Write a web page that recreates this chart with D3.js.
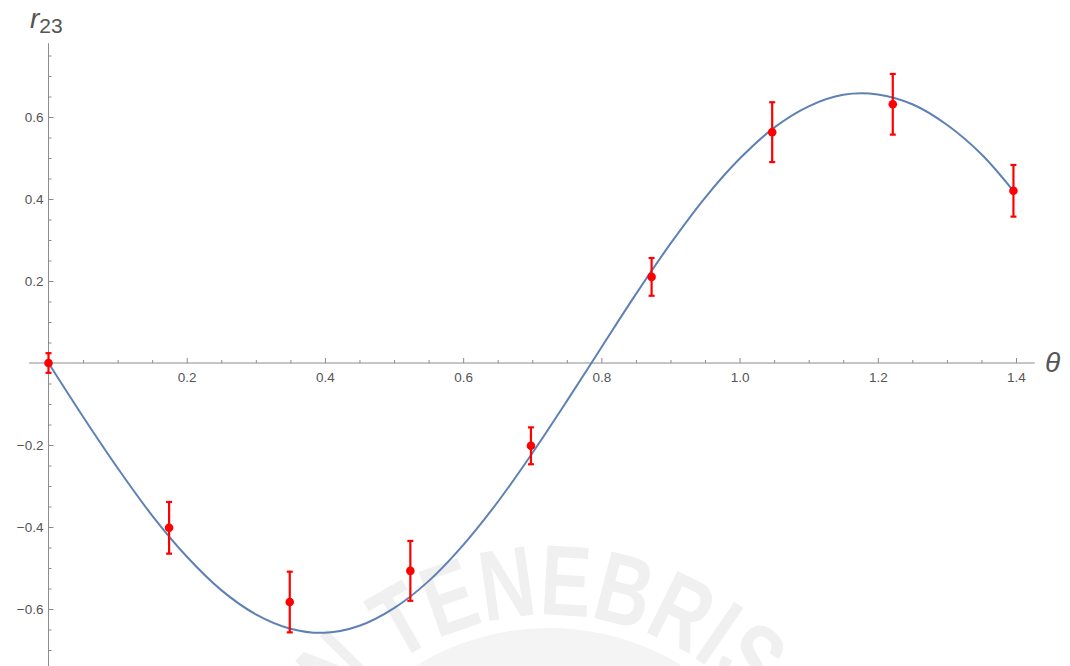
<!DOCTYPE html>
<html>
<head>
<meta charset="utf-8">
<script src="https://cdn.jsdelivr.net/npm/d3@7"></script>
<style>
  body { margin: 0; background: #fff; }
  svg { display: block; font-family: "Liberation Sans", Arial, sans-serif; }
  .tick text { fill: #555; font-size: 13.5px; }
  .tick line { stroke: #8c8c8c; }
</style>
</head>
<body>
<svg id="chart" width="1070" height="666"></svg>
<script>
// measured points: angle (rad), r23, error
var angles = [0, 0.1745, 0.3491, 0.5236, 0.6981, 0.8727, 1.0472, 1.2217, 1.3963]
  , values = [0.0, -0.402, -0.583, -0.507, -0.202, 0.210, 0.563, 0.631, 0.420]
  , errors = [0.024, 0.063, 0.074, 0.073, 0.045, 0.046, 0.073, 0.074, 0.063]

// fitted curve
var curveTheta = [0, 0.05, 0.10, 0.15, 0.20, 0.25, 0.30, 0.35, 0.40, 0.45, 0.50, 0.55, 0.60, 0.65,
                  0.70, 0.75, 0.80, 0.85, 0.90, 0.95, 1.00, 1.05, 1.10, 1.15, 1.20, 1.25, 1.30, 1.35, 1.396]
  , curveR = [0, -0.131, -0.256, -0.372, -0.472, -0.554, -0.613, -0.648, -0.658, -0.641, -0.598, -0.532, -0.444, -0.339,
              -0.220, -0.093, 0.038, 0.168, 0.291, 0.403, 0.498, 0.574, 0.626, 0.654, 0.655, 0.631, 0.581, 0.509, 0.420]

var xMajor = [0.2, 0.4, 0.6, 0.8, 1.0, 1.2, 1.4]
  , yMajor = [-0.6, -0.4, -0.2, 0.2, 0.4, 0.6]

var svg = d3.select('#chart')
  , x = d3.scaleLinear().domain([0, 1.4]).range([48.5, 1016])
  , y = d3.scaleLinear().domain([0, 0.6]).range([363, 117])

// faint watermark in the background
var wm = svg.append('g').attr('class', 'watermark')
  , cx = 549, cy = 882, rText = 267
  , pt = function(deg) {
      var a = deg * Math.PI / 180
      return (cx + rText * Math.sin(a)) + ',' + (cy - rText * Math.cos(a))
    }
wm.append('circle').attr('cx', cx).attr('cy', cy).attr('r', 254).attr('fill', '#f4f4f4')
wm.append('path').attr('id', 'wmArc').attr('fill', 'none')
  .attr('d', 'M' + pt(-93) + ' A' + rText + ',' + rText + ' 0 0 1 ' + pt(85))
wm.append('text')
  .attr('fill', '#f0f0f0').attr('font-size', 100).attr('font-weight', 'bold')
  .attr('text-anchor', 'middle')
  .append('textPath').attr('href', '#wmArc').attr('startOffset', '50%')
  .attr('textLength', 480).attr('lengthAdjust', 'spacingAndGlyphs')
  .text('IN TENEBRIS')

var fmt = function(d) { return d3.format('.1f')(d).replace('-', '\u2212') }
var minorX = d3.range(0.05, 1.401, 0.05).filter(function(d) { return Math.abs(d / 0.2 - Math.round(d / 0.2)) > 0.01 })
  , minorY = d3.range(-0.7, 0.751, 0.05).filter(function(d) { return Math.abs(d / 0.2 - Math.round(d / 0.2)) > 0.01 })

// x axis through zero
var gx = svg.append('g').attr('transform', 'translate(0,' + y(0) + ')')
gx.append('g').call(d3.axisBottom(x).tickValues(minorX).tickFormat('').tickSizeInner(-3).tickSizeOuter(0))
gx.append('g').call(d3.axisBottom(x).tickValues(xMajor).tickFormat(fmt).tickSizeInner(-5).tickSizeOuter(0).tickPadding(9))
gx.selectAll('.domain').remove()
gx.append('line').attr('x1', x(-0.028)).attr('x2', x(1.427)).attr('stroke', '#8c8c8c')

// y axis through zero
var gy = svg.append('g').attr('transform', 'translate(' + x(0) + ',0)')
gy.append('g').call(d3.axisLeft(y).tickValues(minorY).tickFormat('').tickSizeInner(-3).tickSizeOuter(0))
gy.append('g').call(d3.axisLeft(y).tickValues(yMajor).tickFormat(fmt).tickSizeInner(-5).tickSizeOuter(0).tickPadding(5))
gy.selectAll('.domain').remove()
gy.append('line').attr('y1', y(0.78)).attr('y2', 666).attr('stroke', '#8c8c8c')

// axis labels
var rl = svg.append('text').attr('x', 30).attr('y', 28).attr('fill', '#555')
rl.append('tspan').attr('font-style', 'italic').attr('font-size', 28).text('r')
rl.append('tspan').attr('font-size', 21).attr('dy', 5).text('23')
svg.append('text').attr('x', 1045).attr('y', 372).attr('fill', '#555')
  .attr('font-style', 'italic').attr('font-size', 28).text('\u03b8')

// fit curve
var line = d3.line()
  .x(function(d, i) { return x(curveTheta[i]) })
  .y(function(d) { return y(d) })
  .curve(d3.curveCatmullRom)
svg.append('path').datum(curveR)
  .attr('d', line).attr('fill', 'none').attr('stroke', '#5e81b5').attr('stroke-width', 2)

// data with error bars
var pts = angles.map(function(a, i) { return { t: a, v: values[i], e: errors[i] } })
var g = svg.append('g').selectAll('g').data(pts).enter().append('g')
  .attr('stroke', '#f00').attr('stroke-width', 2.2)
g.append('line')
  .attr('x1', function(d) { return x(d.t) }).attr('x2', function(d) { return x(d.t) })
  .attr('y1', function(d) { return y(d.v - d.e) }).attr('y2', function(d) { return y(d.v + d.e) })
g.append('line')
  .attr('x1', function(d) { return x(d.t) - 3 }).attr('x2', function(d) { return x(d.t) + 3 })
  .attr('y1', function(d) { return y(d.v + d.e) }).attr('y2', function(d) { return y(d.v + d.e) })
g.append('line')
  .attr('x1', function(d) { return x(d.t) - 3 }).attr('x2', function(d) { return x(d.t) + 3 })
  .attr('y1', function(d) { return y(d.v - d.e) }).attr('y2', function(d) { return y(d.v - d.e) })
g.append('circle')
  .attr('cx', function(d) { return x(d.t) }).attr('cy', function(d) { return y(d.v) })
  .attr('r', 4.3).attr('fill', '#f00').attr('stroke', 'none')
</script>
</body>
</html>
